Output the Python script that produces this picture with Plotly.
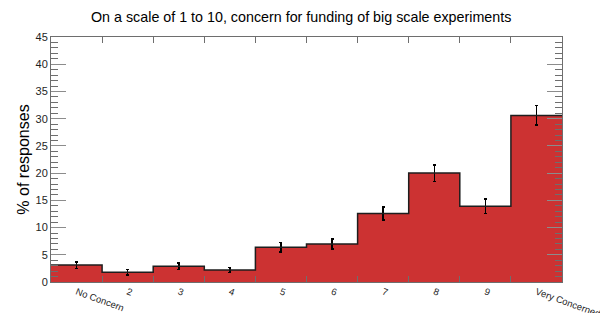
import numpy as np
import plotly.graph_objects as go

categories = ["No Concern", "2", "3", "4", "5", "6", "7", "8", "9", "Very Concerned"]
values = [3.1, 1.8, 2.9, 2.2, 6.4, 7.0, 12.6, 20.0, 13.9, 30.6]
errors = [0.6, 0.5, 0.6, 0.5, 0.9, 0.9, 1.2, 1.5, 1.3, 1.8]
y_ticks = [0, 5, 10, 15, 20, 25, 30, 35, 40, 45]

RED = "rgb(204,50,50)"
FONT = "Liberation Sans, Arial, sans-serif"

n = len(values)
centers = np.arange(1, n + 1)
edges = np.arange(0.5, n + 1, 1.0)

# step outline derived from the data
step_x = np.repeat(edges, 2)[1:-1]
step_y = np.repeat(values, 2)

fig = go.Figure()
fig.add_trace(go.Bar(
    x=centers, y=values, width=1.0,
    marker=dict(color=RED, line=dict(width=0)),
    error_y=dict(type="data", array=errors, color="black", thickness=1.5, width=1.5),
    showlegend=False,
))
fig.add_trace(go.Scatter(
    x=step_x, y=step_y, mode="lines",
    line=dict(color="rgb(30,30,30)", width=1.5),
    showlegend=False, hoverinfo="skip",
))

fig.update_layout(
    width=600, height=313,
    margin=dict(l=51, r=38, t=37, b=31, autoexpand=False),
    paper_bgcolor="white", plot_bgcolor="white",
    font=dict(family=FONT, color="black"),
    title=dict(text="On a scale of 1 to 10, concern for funding of big scale experiments",
               x=0.502, xanchor="center", y=1 - 17 / 313, yanchor="middle",
               font=dict(size=14.3, family=FONT, color="black"), automargin=False),
    bargap=0,
)

fig.update_xaxes(
    range=[0.5, n + 0.5],
    tickvals=centers, ticktext=categories, tickangle=20,
    ticks="", ticklen=0, automargin=False, ticklabeloverflow="allow",
    tickfont=dict(size=9.5, family=FONT, color="rgb(30,30,30)"),
    showgrid=False, zeroline=False,
    showline=True, linecolor="rgb(110,110,110)", linewidth=1, mirror="allticks",
    minor=dict(tickvals=list(edges[1:-1]), ticks="inside", ticklen=6,
               tickcolor="rgb(110,110,110)", tickwidth=1, showgrid=False),
)

fig.update_yaxes(
    range=[0, 45],
    tickvals=y_ticks, automargin=False,
    ticks="inside", ticklen=15, tickcolor="rgb(140,140,140)", tickwidth=1,
    tickfont=dict(size=11, family=FONT, color="rgb(30,30,30)"),
    showgrid=False, zeroline=False,
    showline=True, linecolor="rgb(110,110,110)", linewidth=1, mirror="allticks",
    minor=dict(dtick=1, ticks="inside", ticklen=7, tickcolor="rgb(110,110,110)",
               tickwidth=1, showgrid=False),
    title=dict(text="% of responses", font=dict(size=16, family=FONT, color="black"),
               standoff=1),
)

fig.write_html("out.html", config={"displayModeBar": False},
               post_script="document.body.style.margin='0';document.body.style.overflow='hidden';")
